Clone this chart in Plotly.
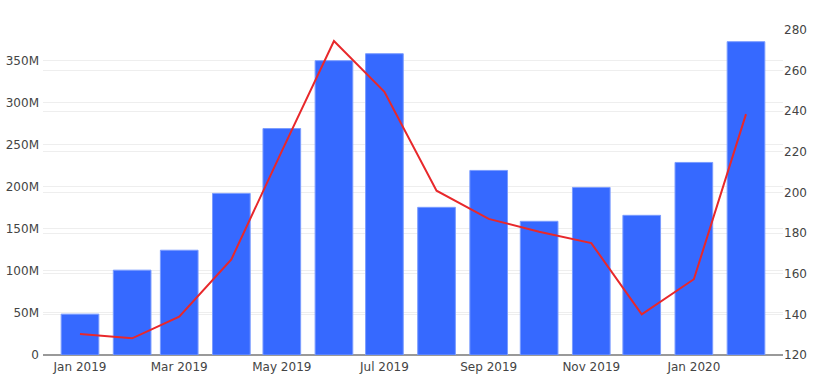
import plotly.graph_objects as go

months = ["2019-01-01", "2019-02-01", "2019-03-01", "2019-04-01", "2019-05-01",
          "2019-06-01", "2019-07-01", "2019-08-01", "2019-09-01", "2019-10-01",
          "2019-11-01", "2019-12-01", "2020-01-01", "2020-02-01"]
bar_values = [48.6e6, 100.9e6, 124.6e6, 192.2e6, 269.3e6, 350.0e6, 358.3e6,
              175.6e6, 219.5e6, 159.0e6, 199.3e6, 166.1e6, 229.0e6, 372.6e6]
line_values = [130.3, 128.2, 138.9, 167.1, 220.4, 274.6, 249.6,
               200.9, 187.0, 180.7, 175.1, 140.0, 157.3, 238.6]

fig = go.Figure()
fig.add_trace(go.Bar(
    x=months, y=bar_values,
    marker=dict(color="#3669FF", line=dict(color="#7A9CFF", width=1)),
    showlegend=False,
))
fig.add_trace(go.Scatter(
    x=months, y=line_values, yaxis="y2", mode="lines",
    line=dict(color="#E8282B", width=2),
    showlegend=False,
))

fig.update_layout(
    width=817, height=380,
    margin=dict(l=43, r=34, t=30, b=25, autoexpand=False),
    plot_bgcolor="white", paper_bgcolor="white",
    font=dict(family="DejaVu Sans", color="#444", size=12),
    bargap=0.2,
    xaxis=dict(
        type="date",
        range=["2018-12-10", "2020-02-23"],
        dtick="M2", tickformat="%b %Y",
        showgrid=False, ticks="", automargin=False,
        ticklabelstandoff=3,
    ),
    yaxis=dict(
        range=[0, 386.5e6],
        dtick=50e6, tickformat="~s",
        gridcolor="#eeeeee", automargin=False,
        zeroline=True, zerolinecolor="#999999", zerolinewidth=2,
        ticklabelstandoff=3,
    ),
    yaxis2=dict(
        overlaying="y", side="right",
        range=[120, 280], dtick=20, automargin=False,
        gridcolor="#eeeeee", zeroline=False,
    ),
)

fig.write_html("out.html", config={"displayModeBar": False},
               post_script="document.body.style.margin='0';")
